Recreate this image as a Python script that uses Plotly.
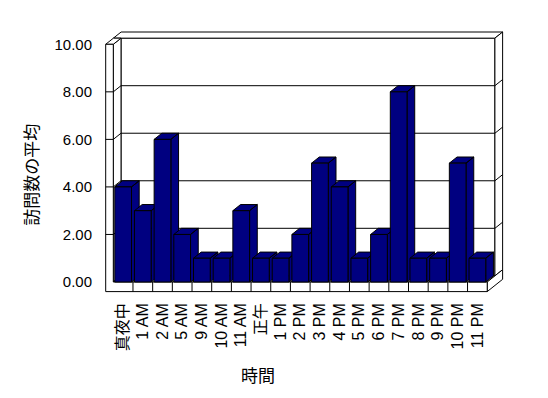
import plotly.graph_objects as go

# ---- data ----
categories = ["真夜中", "1 AM", "2 AM", "5 AM", "9 AM", "10 AM", "11 AM", "正午",
              "1 PM", "2 PM", "3 PM", "4 PM", "5 PM", "6 PM", "7 PM", "8 PM",
              "9 PM", "10 PM", "11 PM"]
values = [4, 3, 6, 2, 1, 1, 3, 1, 1, 2, 5, 4, 1, 2, 8, 1, 1, 5, 1]
y_ticks = [0, 2, 4, 6, 8, 10]
y_tick_labels = ["0.00", "2.00", "4.00", "6.00", "8.00", "10.00"]
x_title = "時間"
y_title = "訪問数の平均"

# ---- layout geometry ----
W, H = 548, 398
ML, MR, MT, MB = 100, 38, 25, 103
PLOT_W = W - ML - MR
PLOT_H = H - MT - MB
PX_CAT = 19.68      # pixels per category
PX_UNIT = 23.77     # pixels per value unit
X0_PX = 113.3       # pixel of left category edge
Y0_PX = 282.0       # pixel of value 0 (front)
x_range = [-0.5 - (X0_PX - ML) / PX_CAT, -0.5 + (ML + PLOT_W - X0_PX) / PX_CAT]
y_range = [-(MT + PLOT_H - Y0_PX) / PX_UNIT, (Y0_PX - MT) / PX_UNIT]
DX = 7.7 / PX_CAT
DY = 6.15 / PX_UNIT
WALL = 7.6 / PX_CAT
FLOOR = 9.6 / PX_UNIT
BAR_W = 0.85
YMAX = y_ticks[-1]
N = len(categories)
XL, XR = -0.5, N - 0.5
NAVY = "#000080"
FONT = "Liberation Sans, Arial, Noto Sans CJK JP"


def poly(pts):
    return "M " + " L ".join(f"{x},{y}" for x, y in pts) + " Z"


def seg(x0, y0, x1, y1):
    return dict(type="line", xref="x", yref="y", x0=x0, y0=y0, x1=x1, y1=y1,
                line=dict(color="black", width=1), layer="below")


def pshape(pts):
    return dict(type="path", xref="x", yref="y", path=poly(pts), fillcolor="white",
                line=dict(color="black", width=1), layer="below")


shapes = [
    # back wall inner face
    pshape([(XL + DX, DY), (XL + DX, YMAX + DY), (XR + DX, YMAX + DY), (XR + DX, DY)]),
    # back wall top
    pshape([(XL - WALL + DX, YMAX + DY), (XL - WALL + 2 * DX, YMAX + 2 * DY),
            (XR + 2 * DX, YMAX + 2 * DY), (XR + DX, YMAX + DY)]),
    # back wall right side
    pshape([(XR + DX, YMAX + DY), (XR + 2 * DX, YMAX + 2 * DY), (XR + 2 * DX, 2 * DY), (XR + DX, DY)]),
    # left wall inner face
    pshape([(XL, 0), (XL, YMAX), (XL + DX, YMAX + DY), (XL + DX, DY)]),
    # left wall top
    pshape([(XL - WALL, YMAX), (XL, YMAX), (XL + DX, YMAX + DY), (XL - WALL + DX, YMAX + DY)]),
    # floor top
    pshape([(XL, 0), (XR, 0), (XR + DX, DY), (XL + DX, DY)]),
    # floor right side
    pshape([(XR, 0), (XR, -FLOOR), (XR + 2 * DX, -FLOOR + 2 * DY), (XR + 2 * DX, 2 * DY)]),
    # front L (left wall front + floor front)
    pshape([(XL - WALL, -FLOOR), (XL - WALL, YMAX), (XL, YMAX), (XL, 0), (XR, 0), (XR, -FLOOR)]),
]
for t in y_ticks[1:-1]:
    shapes.append(seg(XL + DX, t + DY, XR + DX, t + DY))          # back wall grid
    shapes.append(seg(XL, t, XL + DX, t + DY))                    # left wall grid
    shapes.append(seg(XL - WALL, t, XL, t))                       # tick on wall front
    shapes.append(seg(XR + DX, t + DY, XR + 2 * DX, t + 2 * DY))  # right side grid
for k in range(1, N):
    shapes.append(seg(k - 0.5, -FLOOR, k - 0.5, 0))               # floor dividers

fig = go.Figure()

# side + top faces of the bars (drawn left to right)
for i, v in enumerate(values):
    xl, xr = i - BAR_W / 2, i + BAR_W / 2
    xs = [xr, xr + DX, xr + DX, xr, xr, None, xl, xr, xr + DX, xl + DX, xl]
    ys = [0, DY, v + DY, v, 0, None, v, v, v + DY, v + DY, v]
    fig.add_trace(go.Scatter(x=xs, y=ys, mode="lines", fill="toself", fillcolor=NAVY,
                             line=dict(color="black", width=1), hoverinfo="skip",
                             showlegend=False, xaxis="x", yaxis="y"))

# front faces of the bars, on an overlaying axis so they sit above the side faces
fig.add_trace(go.Bar(x=list(range(N)), y=values, width=BAR_W, marker=dict(color=NAVY,
                     line=dict(color="black", width=1)), showlegend=False,
                     xaxis="x2", yaxis="y2", hoverinfo="skip"))

annotations = [
    dict(text=y_title, xref="paper", yref="paper",
         x=(31.7 - ML) / PLOT_W, y=(MT + PLOT_H - 175) / PLOT_H,
         xanchor="center", yanchor="middle", textangle=-90, showarrow=False,
         font=dict(size=17, color="black")),
    dict(text=x_title, xref="paper", yref="paper",
         x=(258 - ML) / PLOT_W, y=(MT + PLOT_H - 376) / PLOT_H,
         xanchor="center", yanchor="middle", showarrow=False,
         font=dict(size=17, color="black")),
]

fig.update_layout(
    width=W, height=H, margin=dict(l=ML, r=MR, t=MT, b=MB),
    paper_bgcolor="white", plot_bgcolor="white",
    font=dict(family=FONT, size=15, color="black"),
    shapes=shapes, annotations=annotations, showlegend=False,
    xaxis=dict(range=x_range, showgrid=False, zeroline=False, showline=False, ticks="",
               tickmode="array", tickvals=list(range(N)), ticktext=categories, tickangle=-90,
               tickfont=dict(size=16, color="black"), ticklabelstandoff=4),
    yaxis=dict(range=y_range, showgrid=False, zeroline=False, showline=False, ticks="",
               tickmode="array", tickvals=y_ticks, ticktext=y_tick_labels,
               tickfont=dict(size=15, color="black"), ticklabelstandoff=7),
    xaxis2=dict(overlaying="x", matches="x", visible=False),
    yaxis2=dict(overlaying="y", matches="y", visible=False),
)

fig.write_html("out.html")
